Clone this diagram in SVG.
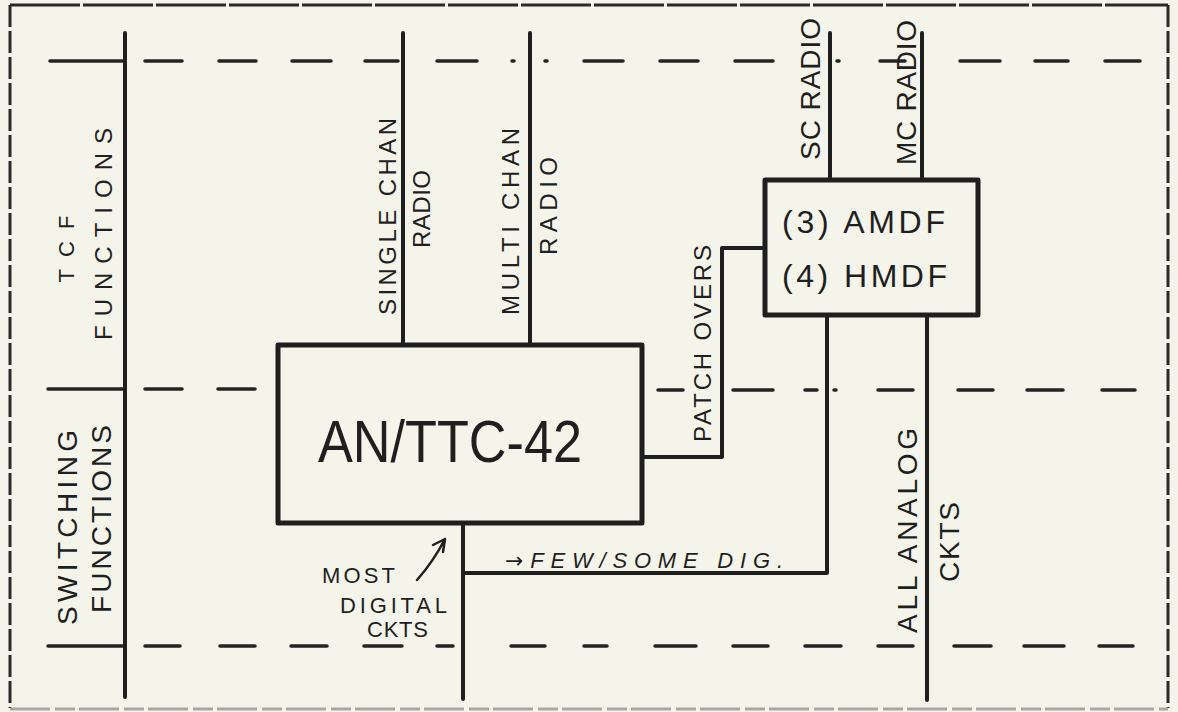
<svg xmlns="http://www.w3.org/2000/svg" width="1178" height="712" viewBox="0 0 1178 712">
<style>
.ln{stroke:#1f1f1f;stroke-width:4;fill:none;stroke-linecap:round;stroke-linejoin:round}
.bx{stroke:#1f1f1f;stroke-width:5;fill:none;stroke-linejoin:round}
.ds{stroke:#232323;stroke-width:3.5;fill:none;stroke-linecap:round}
.fr{stroke:#2a2a2a;stroke-width:3;fill:none}
.t{font-family:"Liberation Sans","DejaVu Sans",sans-serif;fill:#1f1f1f}
.r{text-anchor:middle}
</style>
<rect width="1178" height="712" fill="#f4f4ea"/>
<g id="frame">
<path class="fr" d="M10 5H1168" stroke-dasharray="70 3"/>
<path class="fr" d="M10 5V708" stroke-dasharray="22 4"/>
<path class="fr" d="M1168 5V708" stroke-dasharray="22 4"/>
<path d="M10 709H1168" stroke="#a8a8a2" stroke-width="3" stroke-dasharray="40 5 20 4"/>
</g>
<g id="bands">
<path class="ln" d="M125 33V697"/>
<path class="ds" d="M50 61H125M145 61H182M219 61H256M292 61H331M365 61H398M437 61H477M512 61h2M545 61h2M584 61H623M660 61H698M735 61H773M837 61h2M880 61H905M960 61H1000M1035 61H1068M1105 61H1140"/>
<path class="ds" d="M48 389H123M145 389H182M218 389H255M658 390H683M733 390H773M805 390H817M834 390h2M878 390H913M958 390H993M1027 390H1063M1102 390H1135"/>
<path class="ds" d="M48 646H123M145 646H180M220 646H255M291 646H327M364 646H402M437 646H453M511 646H545M584 646H607M655 646H696M733 646H768M805 646H841M878 646H913M954 646H991M1024 646H1064M1099 646H1133"/>
</g>
<g id="band-labels" class="t r">
<text transform="translate(66 249) rotate(-90)" y="8" font-size="22" textLength="67">TCF</text>
<text transform="translate(103 234) rotate(-90)" y="8.5" font-size="24" textLength="212">FUNCTIONS</text>
<text transform="translate(67 527.5) rotate(-90)" y="10" font-size="28" textLength="195">SWITCHING</text>
<text transform="translate(101 519) rotate(-90)" y="10" font-size="28" textLength="188">FUNCTIONS</text>
</g>
<g id="connectors">
<path class="ln" d="M403 33V345"/>
<path class="ln" d="M530 33V345"/>
<path class="ln" d="M830 33V180"/>
<path class="ln" d="M922 33V180"/>
<path class="ln" d="M765 248H722V457H642"/>
<path class="ln" d="M463 523V699"/>
<path class="ln" d="M463 573H827V315"/>
<path class="ln" d="M927 315V700"/>
<path stroke="#1f1f1f" stroke-width="2.5" fill="none" stroke-linecap="round" stroke-linejoin="round" d="M417 580Q433 562 445 539M433 545L445 539L443 552"/>
</g>
<g id="connector-labels" class="t r">
<text transform="translate(387 216.5) rotate(-90)" y="8.5" font-size="24" textLength="197">SINGLE CHAN</text>
<text transform="translate(421 209) rotate(-90)" y="8.5" font-size="24" textLength="78">RADIO</text>
<text transform="translate(510 221.5) rotate(-90)" y="8.5" font-size="24" textLength="187">MULTI CHAN</text>
<text transform="translate(548 206) rotate(-90)" y="8.5" font-size="24" textLength="98">RADIO</text>
<text transform="translate(702 343.5) rotate(-90)" y="8.5" font-size="24" textLength="197">PATCH OVERS</text>
<text transform="translate(810 89) rotate(-90)" y="10" font-size="28" textLength="142">SC RADIO</text>
<text transform="translate(906 92.5) rotate(-90)" y="10" font-size="28" textLength="145">MC RADIO</text>
<text transform="translate(907 530.5) rotate(-90)" y="10" font-size="28" textLength="205">ALL ANALOG</text>
<text transform="translate(949 542) rotate(-90)" y="10" font-size="28" textLength="80">CKTS</text>
<text x="322" y="583" font-size="22" textLength="73" text-anchor="start">MOST</text>
<text x="340" y="613" font-size="22" textLength="107" text-anchor="start">DIGITAL</text>
<text x="367" y="637" font-size="22" textLength="61" text-anchor="start">CKTS</text>
<text x="505" y="568" font-size="22" font-style="italic" textLength="278" text-anchor="start"><tspan font-family="DejaVu Sans" font-style="normal" font-size="22">→</tspan>FEW/SOME DIG.</text>
</g>
<g id="node-an-ttc-42">
<rect class="bx" x="278" y="345" width="364" height="178"/>
<text class="t" x="318" y="462" font-size="60" textLength="264" lengthAdjust="spacingAndGlyphs">AN/TTC-42</text>
</g>
<g id="node-amdf-hmdf">
<rect class="bx" x="765" y="180" width="213" height="135"/>
<text class="t" x="782" y="233" font-size="32" textLength="163">(3) AMDF</text>
<text class="t" x="782" y="287" font-size="32" textLength="165">(4) HMDF</text>
</g>
</svg>
